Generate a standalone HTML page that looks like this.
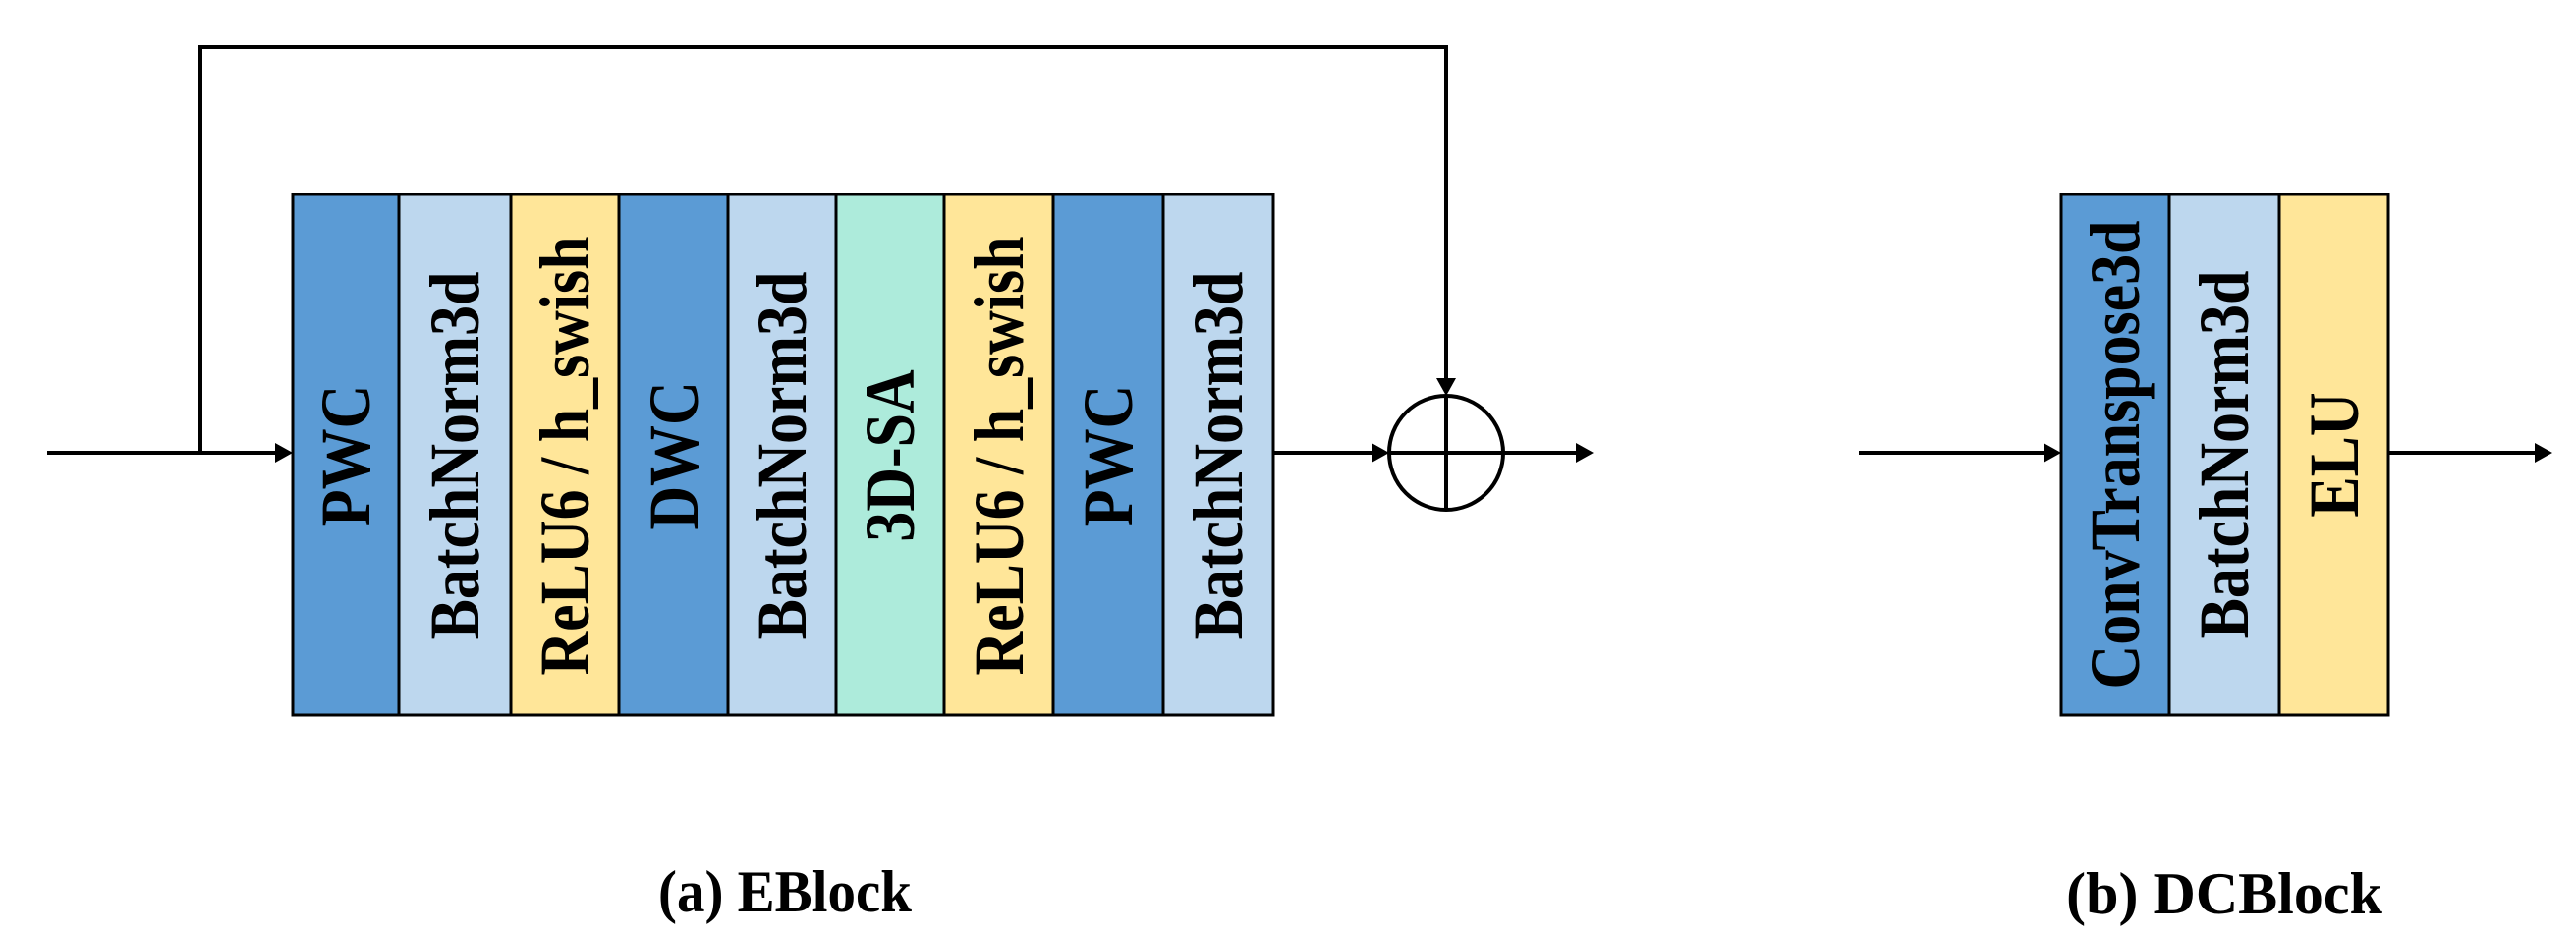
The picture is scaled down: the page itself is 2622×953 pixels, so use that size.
<!DOCTYPE html>
<html><head><meta charset="utf-8"><style>html,body{margin:0;padding:0;background:#fff}svg{display:block}</style></head>
<body>
<svg width="2622" height="953" viewBox="0 0 2622 953" xmlns="http://www.w3.org/2000/svg">
<defs>
<marker id="ah" markerWidth="8" markerHeight="8" refX="7" refY="4" orient="auto" markerUnits="userSpaceOnUse" viewBox="0 0 8 8">
</marker>
</defs>
<g font-family="Liberation Serif, serif" font-weight="bold" fill="#000">
<!-- EBlock columns -->
<g stroke="#000" stroke-width="3">
<rect x="298" y="198" width="108" height="530" fill="#5B9BD5"/>
<rect x="406" y="198" width="114" height="530" fill="#BDD7EE"/>
<rect x="520" y="198" width="110" height="530" fill="#FFE699"/>
<rect x="630" y="198" width="111" height="530" fill="#5B9BD5"/>
<rect x="741" y="198" width="110" height="530" fill="#BDD7EE"/>
<rect x="851" y="198" width="110" height="530" fill="#ADEBDB"/>
<rect x="961" y="198" width="111" height="530" fill="#FFE699"/>
<rect x="1072" y="198" width="112" height="530" fill="#5B9BD5"/>
<rect x="1184" y="198" width="112" height="530" fill="#BDD7EE"/>
</g>
<g font-size="72" text-anchor="middle" dominant-baseline="central">
<text transform="translate(352,464) rotate(-90) scale(0.86,1)">PWC</text>
<text transform="translate(463,464) rotate(-90) scale(0.86,1)">BatchNorm3d</text>
<text transform="translate(575,464) rotate(-90) scale(0.86,1)">ReLU6 / h_swish</text>
<text transform="translate(686,464) rotate(-90) scale(0.86,1)">DWC</text>
<text transform="translate(796,464) rotate(-90) scale(0.86,1)">BatchNorm3d</text>
<text transform="translate(906,464) rotate(-90) scale(0.86,1)">3D-SA</text>
<text transform="translate(1017,464) rotate(-90) scale(0.86,1)">ReLU6 / h_swish</text>
<text transform="translate(1128,464) rotate(-90) scale(0.86,1)">PWC</text>
<text transform="translate(1240,464) rotate(-90) scale(0.86,1)">BatchNorm3d</text>
</g>
<!-- EBlock connectors -->
<g stroke="#000" stroke-width="4" fill="none">
<line x1="48" y1="461" x2="284" y2="461"/>
<polyline points="204,461 204,48 1472,48 1472,388"/>
<line x1="1296" y1="461" x2="1400" y2="461"/>
<circle cx="1472" cy="461" r="58"/>
<line x1="1414" y1="461" x2="1530" y2="461"/>
<line x1="1472" y1="403" x2="1472" y2="519"/>
<line x1="1530" y1="461" x2="1605" y2="461"/>
</g>
<g stroke="none">
<polygon points="298,461 280,451 280,471"/>
<polygon points="1414,461 1396,451 1396,471"/>
<polygon points="1472,403 1462,385 1482,385"/>
<polygon points="1622,461 1604,451 1604,471"/>
</g>
<text x="799" y="928" font-size="60" text-anchor="middle" transform="translate(799,0) scale(0.95,1) translate(-799,0)">(a) EBlock</text>

<!-- DCBlock -->
<g stroke="#000" stroke-width="3">
<rect x="2098" y="198" width="110" height="530" fill="#5B9BD5"/>
<rect x="2208" y="198" width="112" height="530" fill="#BDD7EE"/>
<rect x="2320" y="198" width="111" height="530" fill="#FFE699"/>
</g>
<g font-size="72" text-anchor="middle" dominant-baseline="central">
<text transform="translate(2153,463) rotate(-90) scale(0.86,1)">ConvTranspose3d</text>
<text transform="translate(2264,463) rotate(-90) scale(0.86,1)">BatchNorm3d</text>
<text transform="translate(2376,463) rotate(-90) scale(0.86,1)">ELU</text>
</g>
<g stroke="#000" stroke-width="4">
<line x1="1892" y1="461" x2="2084" y2="461"/>
<line x1="2431" y1="461" x2="2582" y2="461"/>
</g>
<polygon points="2098,461 2080,451 2080,471"/>
<polygon points="2598,461 2580,451 2580,471"/>
<text x="2264" y="930" font-size="60" text-anchor="middle">(b) DCBlock</text>
</g>
</svg>
</body></html>
